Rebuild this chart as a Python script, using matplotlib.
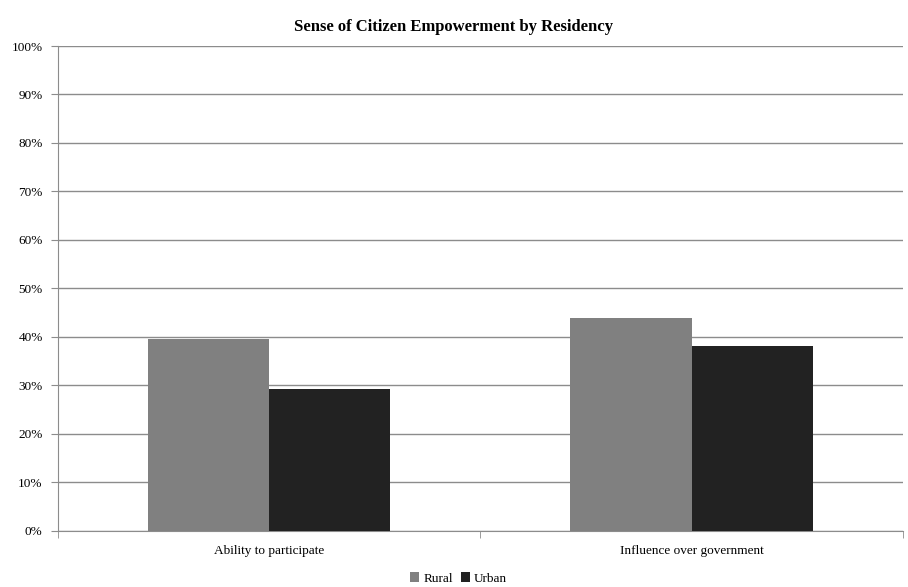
import matplotlib
matplotlib.use("Agg")
import matplotlib.pyplot as plt
import numpy as np
from matplotlib.ticker import FixedLocator, NullFormatter

categories = ["Ability to participate", "Influence over government"]
rural = [39.5, 43.8]
urban = [29.3, 38.2]
series_names = ["Rural", "Urban"]
ytick_labels = [f"{v}%" for v in range(0, 101, 10)]

plt.rcParams['font.family'] = ['Liberation Serif', 'DejaVu Serif']

fig = plt.figure(figsize=(9.08, 5.87), dpi=100)
ax = fig.add_axes([0.0639, 0.0959, 0.9303, 0.8257])

x = np.arange(len(categories))
w = 0.287
ax.bar(x - w/2, rural, w, color="#808080", label=series_names[0], zorder=3)
ax.bar(x + w/2, urban, w, color="#222222", label=series_names[1], zorder=3)

ax.set_xlim(-0.5, 1.5)
ax.set_ylim(0, 100)
ax.set_yticks(range(0, 101, 10))
ax.set_yticklabels(ytick_labels, fontsize=9.5)
ax.yaxis.grid(True, color="#8c8c8c", linewidth=1, zorder=0)
ax.set_axisbelow(True)

ax.set_xticks(x)
ax.set_xticklabels(categories, fontsize=9.5)
ax.tick_params(axis='x', length=0, pad=10)
ax.xaxis.set_minor_locator(FixedLocator([-0.5, 0.5, 1.5]))
ax.xaxis.set_minor_formatter(NullFormatter())
ax.tick_params(axis='x', which='minor', length=5, color="#8c8c8c")
ax.tick_params(axis='y', length=5, color="#8c8c8c", pad=6)

for s in ['top', 'right']:
    ax.spines[s].set_visible(False)
for s in ['left', 'bottom']:
    ax.spines[s].set_color("#8c8c8c")

fig.suptitle("Sense of Citizen Empowerment by Residency", fontsize=12, fontweight='bold', y=0.968)

fig.legend(loc='lower center', bbox_to_anchor=(0.505, -0.016), ncol=2, frameon=False,
           fontsize=9.5, handlelength=0.7, handleheight=0.7, handletextpad=0.3,
           columnspacing=0.6)

fig.savefig("out.png", dpi=100)
